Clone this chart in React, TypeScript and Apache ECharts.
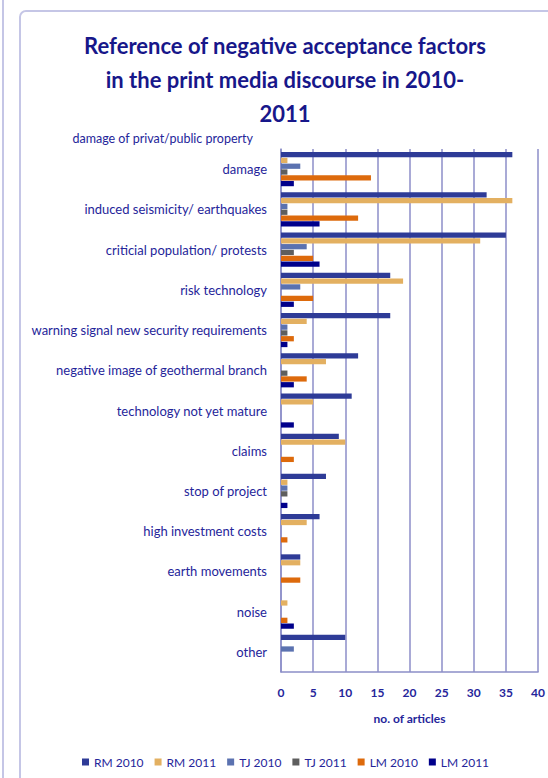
import React, { useEffect, useRef } from "react";
import * as echarts from "echarts";

const categories = [
  "damage",
  "induced seismicity/ earthquakes",
  "criticial population/ protests",
  "risk technology",
  "warning signal new security requirements",
  "negative image of geothermal branch",
  "technology not yet mature",
  "claims",
  "stop of project",
  "high investment costs",
  "earth movements",
  "noise",
  "other",
];

const rm2010 = [36, 32, 35, 17, 17, 12, 11, 9, 7, 6, 3, 0, 10];
const rm2011 = [1, 36, 31, 19, 4, 7, 5, 10, 1, 4, 3, 1, 0];
const tj2010 = [3, 1, 4, 3, 1, 0, 0, 0, 1, 0, 0, 0, 2];
const tj2011 = [1, 1, 2, 0, 1, 1, 0, 0, 1, 0, 0, 0, 0];
const lm2010 = [14, 12, 5, 5, 2, 4, 0, 2, 0, 1, 3, 1, 0];
const lm2011 = [2, 6, 6, 2, 1, 2, 2, 0, 1, 0, 0, 2, 0];

const seriesNames = ["RM 2010", "RM 2011", "TJ 2010", "TJ 2011", "LM 2010", "LM 2011"];
const seriesData = [rm2010, rm2011, tj2010, tj2011, lm2010, lm2011];
const seriesColors = ["#2E3B97", "#E3B061", "#5B72B0", "#5E5E5E", "#DD6A0C", "#00008B"];

const xTicks = { min: 0, max: 40, interval: 5 };

const titleText = "Reference of negative acceptance factors\nin the print media discourse in 2010-\n2011";
const topLabel = "damage of privat/public property";
const xAxisName = "no. of articles";

const FONT = "Lato, 'Open Sans', sans-serif";
const TEXT_COLOR = "#25259A";
const GRID_COLOR = "#8C8EC8";

export default function App() {
  const ref = useRef<HTMLDivElement>(null);

  useEffect(() => {
    if (!ref.current) return;
    const chart = echarts.init(ref.current, undefined, { renderer: "svg" });
    chart.setOption({
      animation: false,
      backgroundColor: "#ffffff",
      title: {
        text: titleText,
        left: 280,
        top: 23,
        textAlign: "center",
        textStyle: {
          fontFamily: FONT,
          fontSize: 22,
          fontWeight: "bold",
          color: "#17178A",
          lineHeight: 34,
        },
      },
      graphic: [
        {
          type: "line",
          shape: { x1: 3, y1: 0, x2: 3, y2: 778 },
          style: { stroke: "#C5C6E6", lineWidth: 2 },
        },
        {
          type: "rect",
          shape: { x: 20, y: 11, width: 600, height: 800, r: 6 },
          style: { fill: "none", stroke: "#C5C6E6", lineWidth: 2 },
        },
        {
          type: "text",
          x: 253,
          y: 138,
          style: {
            text: topLabel,
            align: "right",
            verticalAlign: "middle",
            fontFamily: FONT,
            fontSize: 12.5,
            fill: TEXT_COLOR,
          },
        },
      ],
      legend: {
        data: seriesNames,
        left: 77,
        top: 751,
        itemWidth: 7,
        itemHeight: 7,
        itemGap: 11,
        icon: "rect",
        textStyle: { fontFamily: FONT, fontSize: 12, color: TEXT_COLOR },
      },
      grid: { left: 281, right: 7, top: 149, bottom: 106, containLabel: false },
      xAxis: {
        type: "value",
        min: xTicks.min,
        max: xTicks.max,
        interval: xTicks.interval,
        name: xAxisName,
        nameLocation: "middle",
        nameGap: 40,
        nameTextStyle: { fontFamily: FONT, fontSize: 12, fontWeight: "bold", color: TEXT_COLOR },
        axisLine: { show: true, lineStyle: { color: GRID_COLOR, width: 1.5 } },
        axisTick: { show: false },
        axisLabel: { fontFamily: FONT, fontSize: 12, fontWeight: "bold", color: TEXT_COLOR, margin: 14 },
        splitLine: { show: true, lineStyle: { color: GRID_COLOR, width: 1.5 } },
      },
      yAxis: {
        type: "category",
        data: categories,
        inverse: true,
        axisLine: { show: true, lineStyle: { color: GRID_COLOR, width: 1.5 } },
        axisTick: { show: false },
        axisLabel: { fontFamily: FONT, fontSize: 13, color: TEXT_COLOR, margin: 14 },
      },
      series: seriesNames.map((name, i) => ({
        name,
        type: "bar",
        data: seriesData[i],
        itemStyle: { color: seriesColors[i] },
        barGap: "10%",
        barCategoryGap: "15%",
      })),
    });
    return () => chart.dispose();
  }, []);

  return (
    <div
      ref={ref}
      style={{ position: "absolute", left: 0, top: 0, width: 548, height: 778 }}
    />
  );
}
